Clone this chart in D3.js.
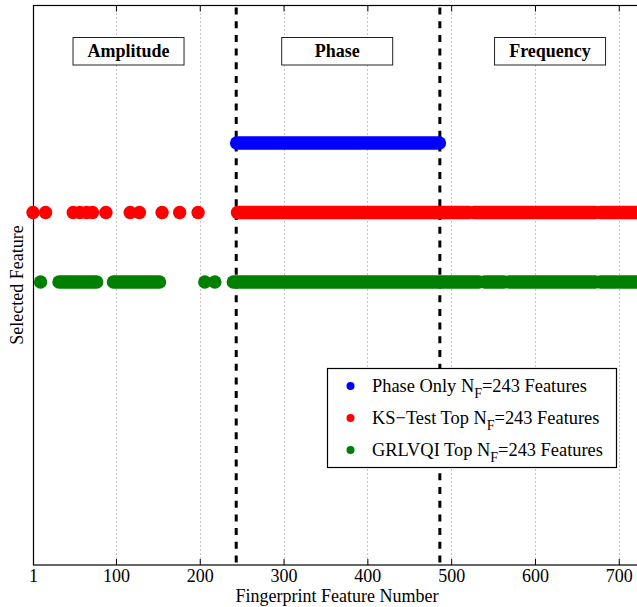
<!DOCTYPE html>
<html>
<head>
<meta charset="utf-8">
<script src="https://cdn.jsdelivr.net/npm/d3@7/dist/d3.min.js"></script>
<style>
  html, body { margin: 0; padding: 0; background: #fff; }
  svg { display: block; }
</style>
</head>
<body>
<svg id="chart" width="637" height="607"></svg>
<script>
// ---------- data ----------
const xDomain = [1, 729];
const tickValues = [1, 100, 200, 300, 400, 500, 600, 700];
const regionNames = ["Amplitude", "Phase", "Frequency"];
const regionLabelAt = [115, 364, 618];      // feature number where each region label is centred
const regionBounds = [243.5, 486.5];         // feature boundaries between regions

const seriesNames = [
  ["Phase Only N", "F", "=243 Features"],
  ["KS\u2212Test Top N", "F", "=243 Features"],
  ["GRLVQI Top N", "F", "=243 Features"]
];
const seriesColors = ["#0000ff", "#ff0000", "#008000"];
const seriesRows = [3, 2, 1];

// selected features, as runs [first, last] of feature numbers
const phaseOnlyRuns = [[244, 486]];
const ksTestRuns = [
  [1, 1], [16, 16], [49, 49], [57, 57], [65, 65], [72, 72], [88, 88],
  [117, 117], [128, 128], [155, 155], [176, 176], [198, 198],
  [245, 521], [527, 672], [678, 729]
];
const grlvqiRuns = [
  [10, 10], [32, 77], [97, 152], [206, 206], [218, 218],
  [240, 533], [540, 563], [569, 672], [678, 697], [701, 729]
];
const seriesRuns = [phaseOnlyRuns, ksTestRuns, grlvqiRuns];

// ---------- layout ----------
(function () {
const FONT = "'Liberation Serif', 'Times New Roman', serif";
const svg = d3.select("#chart");
const mLeft = 33, mTop = 5.5, mBottom = 565;
const x = d3.scaleLinear().domain(xDomain).range([mLeft, mLeft + 728 * 0.838]);
const y = d3.scaleLinear().domain([1, 3]).range([282, 143]);
const mRight = x(xDomain[1]);
const dotR = 6.7;

// grid
const grid = svg.append("g");
grid.selectAll("line").data(tickValues.filter(d => d !== 1)).join("line")
  .attr("x1", d => Math.round(x(d)) + 0.5).attr("x2", d => Math.round(x(d)) + 0.5)
  .attr("y1", mTop).attr("y2", mBottom)
  .attr("stroke", "#8a8a8a").attr("stroke-width", 1).attr("stroke-dasharray", "1,3");

// axes (bottom and top with inward ticks)
const xAxisB = d3.axisBottom(x).tickValues(tickValues).tickSizeInner(-6).tickSizeOuter(0).tickPadding(0).tickFormat(d3.format("d"));
const gB = svg.append("g").attr("transform", `translate(0,${mBottom})`).call(xAxisB);
gB.attr("font-family", null).attr("font-size", null);
gB.select(".domain").remove();
gB.selectAll(".tick line").attr("stroke", "#000");
gB.selectAll(".tick text").attr("y", 16.5).attr("dy", null).attr("font-size", 18).attr("fill", "#000");

const xAxisT = d3.axisTop(x).tickValues(tickValues).tickSizeInner(-6).tickSizeOuter(0).tickFormat("");
const gT = svg.append("g").attr("transform", `translate(0,${mTop})`).call(xAxisT);
gT.select(".domain").remove();
gT.selectAll(".tick line").attr("stroke", "#000");

// region separators
svg.append("g").selectAll("line").data(regionBounds).join("line")
  .attr("x1", d => x(d)).attr("x2", d => x(d))
  .attr("y1", mTop + 2).attr("y2", mBottom)
  .attr("stroke", "#000").attr("stroke-width", 3).attr("stroke-dasharray", "7,6.7");

// frame
svg.append("rect").attr("x", mLeft + 0.5).attr("y", mTop).attr("width", mRight - mLeft).attr("height", mBottom - mTop)
  .attr("fill", "none").attr("stroke", "#000").attr("stroke-width", 1.2);

// region labels
const rl = svg.append("g");
regionNames.forEach((name, i) => {
  const cx = x(regionLabelAt[i]);
  rl.append("rect").attr("x", cx - 55.5).attr("y", 37.5).attr("width", 111).attr("height", 27.5)
    .attr("fill", "#fff").attr("stroke", "#222").attr("stroke-width", 1);
  rl.append("text").attr("x", cx).attr("y", 57).attr("text-anchor", "middle")
    .attr("font-size", 18).attr("font-weight", "bold").text(name);
});

// series
const marks = svg.append("g");
seriesRuns.forEach((runs, i) => {
  const g = marks.append("g");
  const yy = y(seriesRows[i]);
  g.selectAll("line").data(runs.filter(r => r[1] > r[0])).join("line")
    .attr("x1", r => x(r[0])).attr("x2", r => x(r[1]))
    .attr("y1", yy).attr("y2", yy)
    .attr("stroke", seriesColors[i]).attr("stroke-width", dotR * 2).attr("stroke-linecap", "round");
  g.selectAll("circle").data(runs.filter(r => r[1] === r[0])).join("circle")
    .attr("cx", r => x(r[0])).attr("cy", yy).attr("r", dotR)
    .attr("fill", seriesColors[i]);
});

// y label
svg.append("text").attr("transform", "translate(23,285) rotate(-90)")
  .attr("text-anchor", "middle").attr("font-size", 18).text("Selected Feature");

// x label
svg.append("text").attr("x", 337).attr("y", 601.5).attr("text-anchor", "middle")
  .attr("font-size", 18).text("Fingerprint Feature Number");

// legend
const lg = svg.append("g");
lg.append("rect").attr("x", 327.5).attr("y", 368.5).attr("width", 289).attr("height", 99)
  .attr("fill", "#fff").attr("stroke", "#000").attr("stroke-width", 1.2);
const rowY = [386, 418, 450];
seriesNames.forEach((parts, i) => {
  lg.append("circle").attr("cx", 350.5).attr("cy", rowY[i]).attr("r", 4).attr("fill", seriesColors[i]);
  const t = lg.append("text").attr("x", 372).attr("y", rowY[i] + 6).attr("font-size", 18.4);
  t.append("tspan").text(parts[0]);
  t.append("tspan").attr("font-size", 14).attr("dy", 6).text(parts[1]);
  t.append("tspan").attr("dy", -6).text(parts[2]);
});

svg.selectAll("text").style("font-family", FONT).style("fill", "#000");
})();
</script>
</body>
</html>
